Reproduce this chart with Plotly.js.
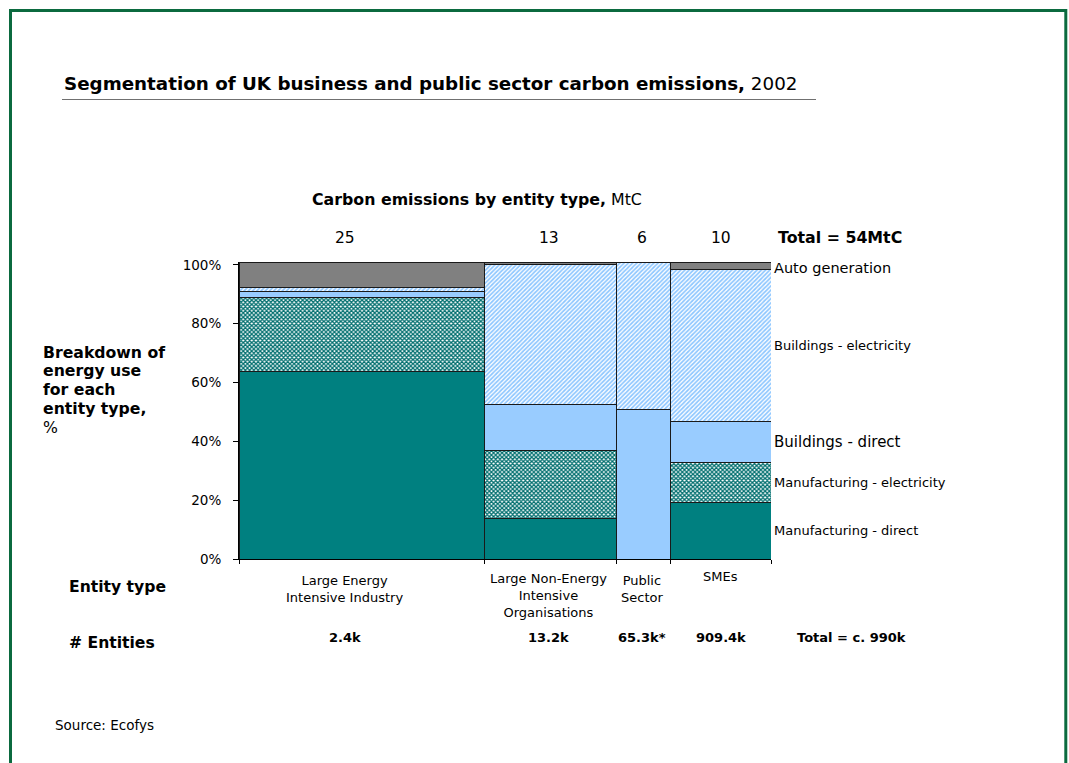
<!DOCTYPE html>
<html>
<head>
<meta charset="utf-8">
<script src="https://cdn.plot.ly/plotly-3.0.1.min.js"></script>
<style>
  html, body { margin: 0; padding: 0; background: #ffffff; }
  #chart { width: 1069px; height: 763px; }
</style>
</head>
<body>
<div id="chart"></div>
<script>
// ---------------- DATA ----------------
const categories = ["Large Energy<br>Intensive Industry", "Large Non-Energy<br>Intensive<br>Organisations", "Public<br>Sector", "SMEs"];
const emissionLabels = ["25", "13", "6", "10"];          // MtC, as printed
const emissionWidths = [24.9, 13.4, 5.5, 10.15];          // MtC, bar widths
const entityCounts = ["2.4k", "13.2k", "65.3k*", "909.4k"];
const totalEmissions = "Total = 54MtC";
const totalEntities = "Total = c. 990k";

const segmentNames = ["Manufacturing - direct", "Manufacturing - electricity", "Buildings - direct", "Buildings - electricity", "Auto generation"];
const mfgDirect   = [63.7, 13.7, 0.0, 19.3];
const mfgElec     = [25.3, 23.3, 0.0, 13.5];
const bldgDirect  = [2.0, 15.5, 50.7, 13.9];
const bldgElec    = [1.3, 47.5, 50.1, 51.9];
const autoGen     = [8.5, 0.8, 0.0, 2.2];

const yTickVals = [0, 20, 40, 60, 80, 100];
const yTickText = ["0%", "20%", "40%", "60%", "80%", "100%"];
const leftTitleLines = ["<b>Breakdown of</b>", "<b>energy use</b>", "<b>for each</b>", "<b>entity type,</b>", "%"];

// ---------------- GEOMETRY HELPERS ----------------
const W = 1069, H = 763;
const M = {l: 239, r: 298, t: 262, b: 204};
const PW = W - M.l - M.r, PH = H - M.t - M.b;
const PX = x => (x - M.l) / PW;
const PY = y => (H - M.b - y) / PH;

const starts = [];
let acc = 0;
emissionWidths.forEach(w => { starts.push(acc); acc += w; });
const total = acc;
const mids = emissionWidths.map((w, i) => starts[i] + w / 2);
const bounds = starts.concat([total]);

const FONT = "DejaVu Sans, Verdana, sans-serif";
const lineStyle = {color: "#1a1a1a", width: 1};

const teal = "#008080", lightBlue = "#99ccff", grey = "#808080";

const segValues = [mfgDirect, mfgElec, bldgDirect, bldgElec, autoGen];
const segMarkers = [
  {color: teal, line: lineStyle},
  {color: "#ffffff", line: lineStyle, pattern: {shape: "x", fgcolor: "#006e6e", bgcolor: "#ffffff", size: 3, solidity: 0.68}},
  {color: lightBlue, line: lineStyle},
  {color: "#ffffff", line: lineStyle, pattern: {shape: "/", fgcolor: "#8cc6ff", bgcolor: "#ffffff", size: 3, solidity: 0.55}},
  {color: grey, line: lineStyle}
];

const traces = segValues.map((vals, k) => ({
  type: "bar",
  name: segmentNames[k],
  x: mids,
  y: vals,
  width: emissionWidths,
  marker: segMarkers[k],
  hoverinfo: "skip",
  showlegend: false
}));

// ---------------- ANNOTATIONS ----------------
const labelShift = [-17, -2, -2, 0];
const labelTop = [571, 569, 571, 567];
const ann = [];
const txt = (o) => Object.assign({showarrow: false, font: {family: FONT, size: 13, color: "#000"}}, o);

ann.push(txt({xref: "paper", yref: "paper", x: PX(62), y: PY(83), xanchor: "left", yanchor: "middle",
  text: "<b>Segmentation of UK business and public sector carbon emissions,</b> 2002",
  font: {family: FONT, size: 18.3, color: "#000"}}));
ann.push(txt({xref: "paper", yref: "paper", x: PX(310), y: PY(199), xanchor: "left", yanchor: "middle",
  text: "<b>Carbon emissions by entity type,</b> MtC",
  font: {family: FONT, size: 15.8, color: "#000"}}));

emissionLabels.forEach((t, i) => {
  ann.push(txt({xref: "x", yref: "paper", x: mids[i], xshift: labelShift[i], y: PY(238), xanchor: "center", yanchor: "middle",
    text: t, font: {family: FONT, size: 15.5, color: "#000"}}));
});
ann.push(txt({xref: "paper", yref: "paper", x: PX(776), y: PY(238), xanchor: "left", yanchor: "middle",
  text: "<b>" + totalEmissions + "</b>", font: {family: FONT, size: 15.8, color: "#000"}}));

leftTitleLines.forEach((t, i) => {
  ann.push(txt({xref: "paper", yref: "paper", x: PX(41), y: PY(352 + 18.75 * i), xanchor: "left", yanchor: "middle",
    text: t, font: {family: FONT, size: 15.7, color: "#000"}}));
});
ann.push(txt({xref: "paper", yref: "paper", x: PX(67), y: PY(587), xanchor: "left", yanchor: "middle",
  text: "<b>Entity type</b>", font: {family: FONT, size: 15.6, color: "#000"}}));
ann.push(txt({xref: "paper", yref: "paper", x: PX(67), y: PY(643), xanchor: "left", yanchor: "middle",
  text: "<b># Entities</b>", font: {family: FONT, size: 15.6, color: "#000"}}));

categories.forEach((t, i) => {
  ann.push(txt({xref: "x", yref: "paper", x: mids[i], xshift: labelShift[i], y: PY(labelTop[i]), xanchor: "center", yanchor: "top",
    text: t, font: {family: FONT, size: 13, color: "#000"}}));
  ann.push(txt({xref: "x", yref: "paper", x: mids[i], xshift: labelShift[i], y: PY(637), xanchor: "center", yanchor: "middle",
    text: "<b>" + entityCounts[i] + "</b>", font: {family: FONT, size: 13, color: "#000"}}));
});
ann.push(txt({xref: "paper", yref: "paper", x: PX(795), y: PY(637), xanchor: "left", yanchor: "middle",
  text: "<b>" + totalEntities + "</b>", font: {family: FONT, size: 13, color: "#000"}}));

// right-hand segment labels, placed at the SME column segments
const smeIdx = 3;
let cum = 0;
const segMid = segValues.map(v => { const m = cum + v[smeIdx] / 2; cum += v[smeIdx]; return m; });
const segLabelSize = [13, 13, 15, 13, 14.5];
segmentNames.forEach((name, k) => {
  const yv = (k === 4) ? cum - 1.9 : segMid[k];
  ann.push(txt({xref: "paper", yref: "y", x: 1.002, y: yv, xanchor: "left", yanchor: "middle",
    text: name, font: {family: FONT, size: segLabelSize[k], color: "#000"}}));
});

ann.push(txt({xref: "paper", yref: "paper", x: PX(53), y: PY(725), xanchor: "left", yanchor: "middle",
  text: "Source: Ecofys", font: {family: FONT, size: 13.5, color: "#000"}}));

// ---------------- SHAPES ----------------
const shapes = [
  {type: "rect", xref: "paper", yref: "paper", x0: PX(10.5), x1: PX(1065.8), y0: PY(10.5), y1: PY(900),
   line: {color: "#0b6a3f", width: 3}, fillcolor: "rgba(0,0,0,0)", layer: "below"},
  {type: "line", xref: "paper", yref: "paper", x0: PX(62), x1: PX(816), y0: PY(99.5), y1: PY(99.5),
   line: {color: "#707070", width: 1}}
];

const layout = {
  width: W, height: H,
  margin: M,
  paper_bgcolor: "#ffffff", plot_bgcolor: "#ffffff",
  barmode: "stack", bargap: 0,
  showlegend: false,
  font: {family: FONT, size: 13, color: "#000"},
  xaxis: {range: [0, total], tickvals: bounds, showticklabels: false, ticks: "outside", ticklen: 4,
          tickcolor: "#000", showline: true, linecolor: "#000", linewidth: 1, showgrid: false, zeroline: false, fixedrange: true},
  yaxis: {range: [0, 101], tickvals: yTickVals, ticktext: yTickText, ticks: "outside", ticklen: 5,
          tickcolor: "#000", showline: true, linecolor: "#000", linewidth: 1, showgrid: false, zeroline: false,
          ticklabelstandoff: 9,
          tickfont: {family: FONT, size: 13.5, color: "#000"}, fixedrange: true},
  annotations: ann,
  shapes: shapes
};

Plotly.newPlot("chart", traces, layout, {staticPlot: true, displayModeBar: false});
</script>
</body>
</html>
